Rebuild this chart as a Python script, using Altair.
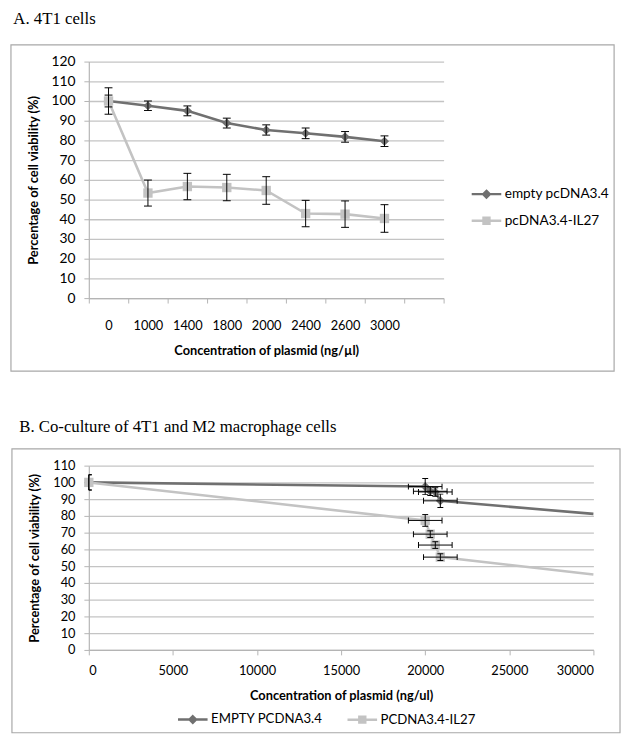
import altair as alt
import pandas as pd

# ---------------- data ----------------
cats_A = ["0", "1000", "1400", "1800", "2000", "2400", "2600", "3000"]
series_A = ["empty pcDNA3.4", "pcDNA3.4-IL27"]
empty_A = [100, 97.6, 95.0, 88.8, 85.3, 83.6, 81.8, 79.6]
empty_A_err = [3.0, 2.4, 2.5, 2.5, 2.6, 2.7, 2.7, 2.7]
il27_A = [100, 53.3, 56.6, 56.1, 54.6, 42.9, 42.6, 40.4]
il27_A_err = [6.7, 6.6, 6.7, 6.7, 7.0, 6.7, 6.7, 7.0]

series_B = ["EMPTY PCDNA3.4", "PCDNA3.4-IL27"]
x_B = [0, 20000, 20300, 20600, 20900, 30000]
empty_B = [100, 97.5, 94.7, 94.3, 89.0, 81.2]
il27_B = [100, 77.3, 69.1, 62.6, 55.4, 45.0]
empty_B_yerr = [4.6, 4.8, 2.5, 2.5, 4.0, 0]
il27_B_yerr = [4.6, 3.5, 2.0, 2.0, 2.0, 0]
B_xerr = [0, 1000, 1000, 1000, 1000, 0]
B_marker = [True, True, True, True, True, False]

# ---------------- styling ----------------
DARK = "#707070"
LIGHT = "#c3c3c3"
GRID = "#c4c4c4"
AXIS = "#b4b4b4"
BOX = "#a8a8a8"
FONT = "Lato"
SERIF = "Liberation Serif"

diamond_leg = "M-1,0L1,0M0,-0.22L0.22,0L0,0.22L-0.22,0Z"
square_leg = "M-1,0L1,0M-0.2,-0.2L0.2,-0.2L0.2,0.2L-0.2,0.2Z"

# ---------------- tables ----------------
rows = []
for s, vals, errs in [(series_A[0], empty_A, empty_A_err), (series_A[1], il27_A, il27_A_err)]:
    for c, v, e in zip(cats_A, vals, errs):
        rows.append({"conc": c, "series": s, "val": v, "lo": v - e, "hi": v + e})
dfA = pd.DataFrame(rows)

rows = []
for s, vals, errs in [(series_B[0], empty_B, empty_B_yerr), (series_B[1], il27_B, il27_B_yerr)]:
    for x, v, e, xe, m in zip(x_B, vals, errs, B_xerr, B_marker):
        rows.append({"x": x, "series": s, "val": v, "lo": v - e, "hi": v + e,
                     "xlo": x - xe, "xhi": x + xe, "marker": m, "xe": xe})
dfB = pd.DataFrame(rows)
dfB_pts = dfB[dfB["marker"]]
dfB_xerr = dfB_pts[dfB_pts["xe"] > 0]


def box(x1, x2, y1, y2):
    return alt.Chart(pd.DataFrame({"k": [0]})).mark_rect(
        fill="transparent", stroke=BOX, strokeWidth=1.2
    ).encode(x=alt.value(x1), x2=alt.value(x2), y=alt.value(y1), y2=alt.value(y2))


def legend_layer(data, domain, legend):
    # invisible marks: only used to build the legend (line + marker symbols)
    cscale = alt.Scale(domain=domain, range=[DARK, LIGHT])
    return alt.Chart(data).mark_point(filled=True, opacity=0, size=1).encode(
        color=alt.Color("series:N", scale=cscale, legend=legend),
        stroke=alt.Stroke("series:N", scale=cscale, legend=legend),
        shape=alt.Shape("series:N", scale=alt.Scale(domain=domain, range=[diamond_leg, square_leg]),
                        legend=legend),
    )


# ================= Panel A =================
WA, HA = 360, 240
xA_scale = alt.Scale(type="band", domain=cats_A + [" "], paddingInner=0, paddingOuter=0)
xA_axis = alt.Axis(title="Concentration of plasmid (ng/µl)", labelAngle=0, tickBand="extent",
                   grid=False, domainColor=AXIS, tickColor=AXIS, tickSize=5, domainWidth=1.2,
                   labelFontSize=13, labelPadding=17, titleFontSize=13, titlePadding=12)
yA_scale = alt.Scale(domain=[0, 120], nice=False)
yA_axis = alt.Axis(values=list(range(0, 121, 10)), title="Percentage of cell viability (%)",
                   grid=True, gridColor=GRID, gridWidth=1.3, domainColor=AXIS, domainWidth=1.2,
                   tickColor=AXIS, tickSize=5, labelFontSize=14, labelPadding=9,
                   titleFontSize=13, titlePadding=11)


def xA():
    return alt.X("conc:N", scale=xA_scale, axis=xA_axis)


def yA(f):
    return alt.Y(f + ":Q", scale=yA_scale, axis=yA_axis)


cA = alt.Color("series:N", scale=alt.Scale(domain=series_A, range=[DARK, LIGHT]), legend=None)
baseA = alt.Chart(dfA)

linesA = baseA.mark_line(strokeWidth=2.6).encode(x=xA(), y=yA("val"), color=cA, detail="series:N")
ptsA_d = baseA.transform_filter(alt.datum.series == series_A[0]).mark_point(
    shape="diamond", filled=True, size=85, opacity=1).encode(x=xA(), y=yA("val"), color=cA)
ptsA_s = baseA.transform_filter(alt.datum.series == series_A[1]).mark_point(
    shape="square", filled=True, size=90, opacity=1).encode(x=xA(), y=yA("val"), color=cA)
errA = baseA.mark_rule(color="#000000", strokeWidth=1).encode(x=xA(), y=yA("lo"), y2="hi:Q")
capA_lo = baseA.mark_tick(color="#000000", thickness=1, size=8, orient="horizontal", opacity=1).encode(
    x=xA(), y=yA("lo"))
capA_hi = baseA.mark_tick(color="#000000", thickness=1, size=8, orient="horizontal", opacity=1).encode(
    x=xA(), y=yA("hi"))

legA = alt.Legend(title=None, orient="none", legendX=387, legendY=118, direction="vertical",
                  labelFontSize=13.8, labelColor="#000000", symbolSize=900, symbolStrokeWidth=2.5,
                  symbolOpacity=1, labelOffset=2, rowPadding=2, padding=0)

panelA = alt.layer(
    box(-79, WA + 173, -17, HA + 74),
    legend_layer(dfA, series_A, legA),
    linesA, ptsA_d, ptsA_s, errA, capA_lo, capA_hi,
).properties(
    width=WA, height=HA,
    title=alt.TitleParams("A. 4T1 cells", anchor="start", font=SERIF, fontSize=17,
                          fontWeight="normal", color="#000000", offset=17, dx=3),
)

# ================= Panel B =================
WB, HB = 512, 187
xB_scale = alt.Scale(domain=[0, 30000], nice=False)
xB_axis = alt.Axis(values=list(range(0, 30001, 5000)), format="d",
                   title="Concentration of plasmid (ng/ul)", grid=False,
                   domainColor=AXIS, tickColor=AXIS, tickSize=5, domainWidth=1.2,
                   labelFontSize=13, labelPadding=10, titleFontSize=13, titlePadding=12)
yB_scale = alt.Scale(domain=[0, 110], nice=False)
yB_axis = alt.Axis(values=list(range(0, 111, 10)), title="Percentage of cell viability (%)",
                   grid=True, gridColor=GRID, gridWidth=1.3, domainColor=AXIS, domainWidth=1.2,
                   tickColor=AXIS, tickSize=5, labelFontSize=13, labelPadding=9,
                   titleFontSize=13, titlePadding=11)


def xB(f):
    return alt.X(f + ":Q", scale=xB_scale, axis=xB_axis)


def yB(f):
    return alt.Y(f + ":Q", scale=yB_scale, axis=yB_axis)


cB = alt.Color("series:N", scale=alt.Scale(domain=series_B, range=[DARK, LIGHT]), legend=None)

linesB = alt.Chart(dfB).mark_line(strokeWidth=2.6).encode(
    x=xB("x"), y=yB("val"), color=cB, detail="series:N", order="x:Q")
ptsB_d = alt.Chart(dfB_pts).transform_filter(alt.datum.series == series_B[0]).mark_point(
    shape="diamond", filled=True, size=85, opacity=1).encode(x=xB("x"), y=yB("val"), color=cB)
ptsB_s = alt.Chart(dfB_pts).transform_filter(alt.datum.series == series_B[1]).mark_point(
    shape="square", filled=True, size=90, opacity=1).encode(x=xB("x"), y=yB("val"), color=cB)
errBy = alt.Chart(dfB_pts).mark_rule(color="#000000", strokeWidth=1).encode(
    x=xB("x"), y=yB("lo"), y2="hi:Q")
capBy_lo = alt.Chart(dfB_pts).mark_tick(color="#000000", thickness=1, size=6, orient="horizontal",
                                        opacity=1, clip=True).encode(x=xB("x"), y=yB("lo"))
capBy_hi = alt.Chart(dfB_pts).mark_tick(color="#000000", thickness=1, size=6, orient="horizontal",
                                        opacity=1, clip=True).encode(x=xB("x"), y=yB("hi"))
errBx = alt.Chart(dfB_xerr).mark_rule(color="#000000", strokeWidth=1).encode(
    x=xB("xlo"), x2="xhi:Q", y=yB("val"))
capBx_lo = alt.Chart(dfB_xerr).mark_tick(color="#000000", thickness=1, size=6, orient="vertical",
                                         opacity=1).encode(x=xB("xlo"), y=yB("val"))
capBx_hi = alt.Chart(dfB_xerr).mark_tick(color="#000000", thickness=1, size=6, orient="vertical",
                                         opacity=1).encode(x=xB("xhi"), y=yB("val"))

legB = alt.Legend(title=None, orient="none", legendX=89, legendY=241, direction="horizontal",
                  labelFontSize=13.4, labelColor="#000000", symbolSize=900, symbolStrokeWidth=2.5,
                  symbolOpacity=1, labelOffset=2, columnPadding=19, padding=0)

panelB = alt.layer(
    box(-78, WB + 27, -17, HB + 84),
    legend_layer(dfB, series_B, legB),
    linesB, ptsB_d, ptsB_s, errBy, capBy_lo, capBy_hi, errBx, capBx_lo, capBx_hi,
).properties(
    width=WB, height=HB,
    title=alt.TitleParams("B. Co-culture of 4T1 and M2 macrophage cells", anchor="start", font=SERIF,
                          fontSize=17, fontWeight="normal", color="#000000", offset=13, dx=8),
)

chart = alt.vconcat(panelA, panelB, spacing=46).resolve_scale(
    color="independent", shape="independent", stroke="independent"
).resolve_legend(
    color="independent", shape="independent", stroke="independent"
).properties(
    padding={"left": 2, "top": -4, "right": 0, "bottom": 0}
).configure_view(stroke=None).configure_axis(
    labelFont=FONT, titleFont=FONT, labelColor="#000000", titleColor="#000000", titleFontWeight="bold"
).configure_legend(labelFont=FONT)

chart.save("out.html", embed_options={"renderer": "svg", "actions": False})
